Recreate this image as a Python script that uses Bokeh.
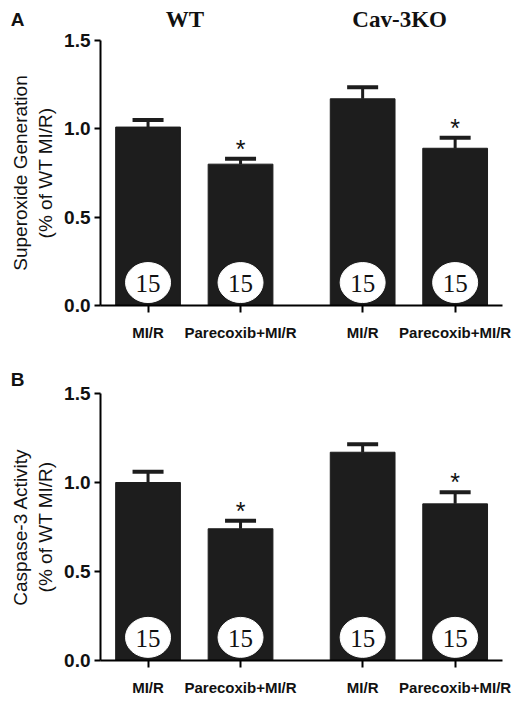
from bokeh.plotting import figure
from bokeh.models import (ColumnDataSource, Range1d, FixedTicker, Whisker, TeeHead)
from bokeh.layouts import column
from bokeh.embed import file_html
from bokeh.resources import INLINE
from bokeh.core.properties import value

# ---------------- data ----------------
groups = ["WT", "Cav-3KO"]
categories = ["MI/R", "Parecoxib+MI/R", "MI/R", "Parecoxib+MI/R"]
group_of_bar = [0, 0, 1, 1]
superoxide_mean = [1.01, 0.80, 1.17, 0.89]
superoxide_sem = [0.04, 0.03, 0.065, 0.06]
caspase_mean = [1.00, 0.74, 1.17, 0.88]
caspase_sem = [0.06, 0.045, 0.045, 0.065]
n_animals = ["15", "15", "15", "15"]
significant = [False, True, False, True]
y_ticks = [0.0, 0.5, 1.0, 1.5]
panel_letters = ["A", "B"]
y_labels = ["Superoxide Generation\n(% of WT MI/R)", "Caspase-3 Activity\n(% of WT MI/R)"]

GAP = 0.32
xs = [i + GAP * g for i, g in enumerate(group_of_bar)]
BAR_COLOR = "#1d1d1d"
TXT = "#111111"
SANS = "Liberation Sans"
SERIF = "Liberation Serif"

X0, X1 = -0.514, 3.832          # extent of the drawn x axis
PX_PER_X = 92.5                 # horizontal scale (px per bar slot)
W = 519


def make_panel(means, sems, letter, ylabel, height, zero_px, px_per_y, letter_y, show_groups):
    # the frame fills the whole figure; axes are pinned at data locations
    x_start = X0 - 100 / PX_PER_X
    x_end = x_start + W / PX_PER_X
    y_start = -(height - zero_px) / px_per_y
    y_end = zero_px / px_per_y
    p = figure(width=W, height=height, output_backend="svg", toolbar_location=None,
               x_range=Range1d(x_start, x_end), y_range=Range1d(y_start, y_end),
               min_border=0, min_border_left=0, min_border_right=0,
               min_border_top=0, min_border_bottom=0)
    p.outline_line_color = None
    p.xgrid.visible = False
    p.ygrid.visible = False
    p.background_fill_color = "white"
    p.border_fill_color = "white"

    src = ColumnDataSource(dict(
        x=xs, mean=means, upper=[m + s for m, s in zip(means, sems)],
        n=n_animals))
    p.vbar(x="x", top="mean", width=0.7, bottom=0, source=src,
           fill_color=BAR_COLOR, line_color=BAR_COLOR)

    w = Whisker(source=src, base="x", upper="upper", lower="mean", dimension="height",
                line_color=BAR_COLOR, line_width=3,
                upper_head=TeeHead(size=31, line_width=4, line_color=BAR_COLOR),
                lower_head=None)
    p.add_layout(w)

    # sample-size ellipses
    p.ellipse(x="x", y=0.13, width=45, height=40, width_units="screen",
              height_units="screen", source=src, fill_color="white",
              line_color="white")
    p.text(x="x", y=0.13, text="n", source=src, text_align="center",
           text_baseline="middle", text_font=value(SERIF), text_font_size="25px",
           text_color=TXT, y_offset=1)

    # significance asterisks
    sig_x = [x for x, s in zip(xs, significant) if s]
    sig_y = [m + e for m, e, s in zip(means, sems, significant) if s]
    p.text(x=sig_x, y=sig_y, text=["*"] * len(sig_x), text_align="center",
           text_baseline="alphabetic", text_font=value(SANS), text_font_size="25px",
           text_color=TXT, y_offset=-10)

    # panel letter
    p.text(x=[X0 - 83 / PX_PER_X], y=[letter_y], text=[letter], text_align="center",
           text_baseline="middle", text_font=value(SANS), text_font_style="bold",
           text_font_size="19px", text_color=TXT)

    if show_groups:
        gx = []
        for gi in range(len(groups)):
            pos = [x for x, gg in zip(xs, group_of_bar) if gg == gi]
            gx.append(sum(pos) / len(pos) - 0.1)
        p.text(x=gx, y=[letter_y] * len(groups), text=groups, text_align="center",
               text_baseline="middle", text_font=value(SERIF), text_font_style="bold",
               text_font_size="23px", text_color=TXT)

    # axes (pinned)
    p.xaxis.fixed_location = 0
    p.xaxis.bounds = (X0, X1)
    p.xaxis.ticker = FixedTicker(ticks=xs)
    p.xaxis.major_label_overrides = {x: c for x, c in zip(xs, categories)}
    p.xaxis.major_label_text_font = SANS
    p.xaxis.major_label_text_font_style = "bold"
    p.xaxis.major_label_text_font_size = "15px"
    p.xaxis.major_label_text_color = TXT
    p.xaxis.major_label_standoff = 11
    p.xaxis.major_tick_out = 7
    p.xaxis.major_tick_in = 0
    p.xaxis.minor_tick_line_color = None
    p.xaxis.axis_line_width = 2
    p.xaxis.major_tick_line_width = 2

    p.yaxis.fixed_location = X0
    p.yaxis.bounds = (0, 1.5)
    p.yaxis.ticker = FixedTicker(ticks=y_ticks)
    p.yaxis.major_label_overrides = {t: f"{t:.1f}" for t in y_ticks}
    p.yaxis.major_label_text_font = SANS
    p.yaxis.major_label_text_font_style = "bold"
    p.yaxis.major_label_text_font_size = "19px"
    p.yaxis.major_label_text_color = TXT
    p.yaxis.major_label_standoff = 4
    p.yaxis.major_tick_out = 6
    p.yaxis.major_tick_in = 0
    p.yaxis.minor_tick_line_color = None
    p.yaxis.axis_line_width = 2
    p.yaxis.major_tick_line_width = 2
    p.yaxis.axis_label = ylabel
    p.yaxis.axis_label_text_font = SANS
    p.yaxis.axis_label_text_font_style = "normal"
    p.yaxis.axis_label_text_font_size = "19px"
    p.yaxis.axis_label_text_color = TXT
    p.yaxis.axis_label_standoff = 5
    return p


p1 = make_panel(superoxide_mean, superoxide_sem, panel_letters[0], y_labels[0],
                351, 305, 176.67, 1.619, True)
p2 = make_panel(caspase_mean, caspase_sem, panel_letters[1], y_labels[1],
                351, 309, 178.0, 1.579, False)

layout = column(p1, p2, spacing=0)
open("out.html", "w").write(file_html(layout, INLINE))
